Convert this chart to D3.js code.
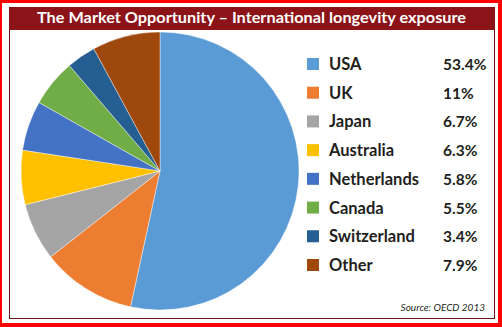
<!DOCTYPE html>
<html>
<head>
<meta charset="utf-8">
<script src="https://cdn.jsdelivr.net/npm/d3@7"></script>
<style>
  html, body { margin: 0; padding: 0; background: #fff; }
  svg { display: block; }
</style>
</head>
<body>
<div id="chart"></div>
<script>
// data
var countries = ["USA", "UK", "Japan", "Australia", "Netherlands", "Canada", "Switzerland", "Other"];
var shares = [53.4, 11, 6.7, 6.3, 5.8, 5.5, 3.4, 7.9];
var shareLabels = ["53.4%", "11%", "6.7%", "6.3%", "5.8%", "5.5%", "3.4%", "7.9%"];
var colours = ["#5B9BD5", "#ED7D31", "#A5A5A5", "#FFC000", "#4472C4", "#70AD47", "#255E91", "#9E480E"];

var titleText = "The Market Opportunity \u2013 International longevity exposure";
var sourceText = "Source: OECD 2013";

var svgWidth = 502,
    svgHeight = 327;

var svg = d3.select("#chart")
    .append("svg")
    .attr("width", svgWidth)
    .attr("height", svgHeight);

// outer red frame
svg.append("rect")
    .attr("x", 0).attr("y", 0)
    .attr("width", svgWidth).attr("height", svgHeight)
    .attr("fill", "#FF0000");
svg.append("rect")
    .attr("x", 2).attr("y", 3)
    .attr("width", 496).attr("height", 320)
    .attr("fill", "#fff");

// inner box
svg.append("rect")
    .attr("x", 9.5).attr("y", 7.5)
    .attr("width", 485).attr("height", 311)
    .attr("fill", "#fff")
    .attr("stroke", "#6E1418")
    .attr("stroke-width", 1);

// title bar
svg.append("rect")
    .attr("x", 9).attr("y", 7)
    .attr("width", 486).attr("height", 23)
    .attr("fill", "#8C1318");

svg.append("text")
    .attr("x", 251.5)
    .attr("y", 22.5)
    .attr("text-anchor", "middle")
    .attr("fill", "#fff")
    .style("font-family", "Lato, 'Open Sans', sans-serif")
    .style("font-weight", "bold")
    .style("font-size", "16px")
    .attr("textLength", 429)
    .attr("lengthAdjust", "spacingAndGlyphs")
    .text(titleText);

// pie
var cx = 160, cy = 171, r = 139;

var pie = d3.pie().sort(null).value(d => d);
var arc = d3.arc().innerRadius(0).outerRadius(r);

var g = svg.append("g")
    .attr("transform", `translate(${cx},${cy})`);

g.selectAll(".slice")
    .data(pie(shares))
    .enter()
    .append("path")
    .attr("class", "slice")
    .attr("d", arc)
    .attr("fill", (d, i) => colours[i])
    .attr("stroke", "#fff")
    .attr("stroke-width", 0.4);

// legend
var y = d3.scalePoint()
    .domain(countries)
    .range([64, 265]);

var legend = svg.selectAll(".legend")
    .data(countries)
    .enter().append("g")
    .attr("class", "legend")
    .attr("transform", d => `translate(307,${y(d)})`);

legend.append("rect")
    .attr("x", 0).attr("y", -6)
    .attr("width", 12).attr("height", 12)
    .attr("fill", (d, i) => colours[i]);

legend.append("text")
    .attr("x", 22)
    .attr("y", 6)
    .attr("fill", "#231F20")
    .style("font-family", "Lato, 'Open Sans', sans-serif")
    .style("font-weight", "bold")
    .style("font-size", "16.5px")
    .text(d => d);

legend.append("text")
    .attr("x", 136)
    .attr("y", 6)
    .attr("fill", "#231F20")
    .style("font-family", "Lato, 'Open Sans', sans-serif")
    .style("font-weight", "bold")
    .style("font-size", "15.5px")
    .text((d, i) => shareLabels[i]);

// source
svg.append("text")
    .attr("x", 485)
    .attr("y", 311)
    .attr("text-anchor", "end")
    .attr("fill", "#231F20")
    .style("font-family", "Lato, 'Open Sans', sans-serif")
    .style("font-style", "italic")
    .style("font-size", "10px")
    .text(sourceText);
</script>
</body>
</html>
